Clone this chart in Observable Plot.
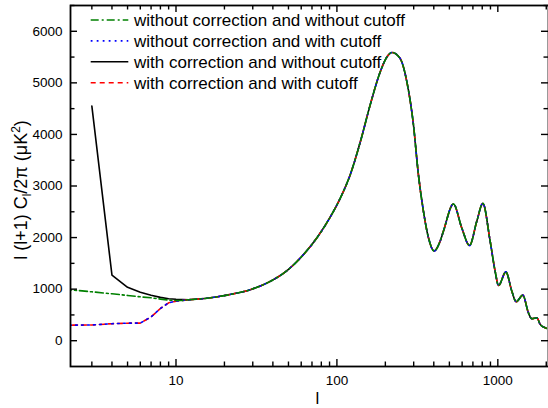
<!DOCTYPE html>
<html>
<head>
<meta charset="utf-8">
<script src="https://cdn.jsdelivr.net/npm/d3@7"></script>
<script src="https://cdn.jsdelivr.net/npm/@observablehq/plot@0.6"></script>
<style>
  html, body { margin: 0; padding: 0; background: #fff; }
  #chart { width: 548px; height: 408px; overflow: hidden; }
</style>
</head>
<body>
<div id="chart"></div>
<script>
// ---------------- data ----------------
const seriesNames = [
  "without correction and without cutoff",
  "without correction and with cutoff",
  "with correction and without cutoff",
  "with correction and with cutoff"
];
const seriesColors = ["#008000", "#0000ff", "#000000", "#ff0000"];

// low multipoles (straight segments between integer l)
const lowL = [2, 3, 4, 5, 6, 7, 8, 9, 10, 11, 12];
const greenLow = [1000, 948, 910, 878, 851, 832, 807, 787, 780, 782, 795];
const cutLow   = [300, 305, 330, 340, 342, 460, 625, 735, 768, 782, 795];
const blackLowL = [3, 4, 5, 6, 7, 8, 9, 10, 11, 12];
const blackLow  = [4550, 1270, 1035, 940, 880, 840, 815, 803, 798, 795];

// common spectrum (all four curves coincide)
const sharedL = [12, 16, 22, 29, 38.5, 49, 62, 75, 91, 105, 121, 140, 161, 186, 205, 220,
  247, 272, 299, 321, 345, 371, 402, 438, 459, 530, 597, 667, 740, 807, 896, 962, 1010,
  1122, 1222, 1300, 1430, 1549, 1625, 1750, 1833, 1967, 2000];
const sharedC = [795, 828, 900, 990, 1150, 1360, 1671, 1992, 2400, 2766, 3219, 3863, 4573, 5217, 5507, 5590,
  5474, 5023, 4186, 3219, 2509, 1992, 1740, 1929, 2122, 2650, 2186, 1845, 2315, 2663, 1929, 1348, 1071,
  1335, 961, 755, 884, 542, 426, 445, 317, 251, 240];

const yMajor = [0, 1000, 2000, 3000, 4000, 5000, 6000];
const yMinor = [500, 1500, 2500, 3500, 4500, 5500, 6500];
const xMajor = [10, 100, 1000];
const xMinor = [3, 4, 5, 6, 7, 8, 9, 20, 30, 40, 50, 60, 70, 80, 90,
  200, 300, 400, 500, 600, 700, 800, 900, 2000];

// ---------------- build tables ----------------
const zip = (ls, cs) => ls.map((l, i) => ({l, c: cs[i]}));
const shared = zip(sharedL, sharedC);
const lows = [zip(lowL, greenLow), zip(lowL, cutLow), zip(blackLowL, blackLow), zip(lowL, cutLow)];
const dashes = ["8,3,2,3", "1.8,4.2", null, "5,4"];
const drawOrder = [2, 3, 1, 0]; // black, red, blue, green

const W = 548, H = 408, mL = 70, mR = 0, mT = 5, mB = 42;
const fw = W - mL - mR, fh = H - mT - mB;
const font = "'Liberation Sans', Arial, sans-serif";

const lineMarks = [];
for (const k of drawOrder) {
  const style = {x: "l", y: "c", stroke: seriesColors[k], strokeWidth: 1.6,
    strokeDasharray: dashes[k], clip: true};
  lineMarks.push(Plot.line(lows[k], {...style, curve: "linear"}));
  lineMarks.push(Plot.line(shared, {...style, curve: "monotone-x"}));
}

const tk = {stroke: "black", strokeWidth: 1.4};
const chart = Plot.plot({
  width: W, height: H,
  marginLeft: mL, marginRight: mR, marginTop: mT, marginBottom: mB,
  style: {fontFamily: font, fontSize: "13px", background: "white", color: "black"},
  x: {type: "log", domain: [2.21, 2065]},
  y: {domain: [-500, 6500]},
  marks: [
    ...lineMarks,
    // inward ticks: left, right, bottom, top
    Plot.tickY(yMajor, {y: d => d, insetRight: fw - 7, ...tk}),
    Plot.tickY(yMinor, {y: d => d, insetRight: fw - 4.5, ...tk}),
    Plot.tickY(yMajor, {y: d => d, insetLeft: fw - 7, ...tk}),
    Plot.tickY(yMinor, {y: d => d, insetLeft: fw - 4.5, ...tk}),
    Plot.tickX(xMajor, {x: d => d, insetTop: fh - 7, ...tk}),
    Plot.tickX(xMinor, {x: d => d, insetTop: fh - 4.5, ...tk}),
    Plot.tickX(xMajor, {x: d => d, insetBottom: fh - 7, ...tk}),
    Plot.tickX(xMinor, {x: d => d, insetBottom: fh - 4.5, ...tk}),
    Plot.axisX(xMajor, {tickSize: 0, tickPadding: 9, tickFormat: d => String(d), label: null, fontSize: 13.5}),
    Plot.axisY(yMajor, {tickSize: 0, tickPadding: 8, tickFormat: d => String(d), label: null, fontSize: 13.5}),
    Plot.frame({stroke: "black", strokeWidth: 1.8})
  ]
});

const svg = d3.select(chart);

// y axis title with subscript / superscript
const yt = svg.append("text")
  .attr("transform", "translate(27,190) rotate(-90)")
  .attr("text-anchor", "middle")
  .attr("font-family", font)
  .attr("font-size", 18)
  .attr("fill", "black");
yt.append("tspan").text("l (l+1) C");
yt.append("tspan").attr("font-size", 12).attr("dy", 4).text("l");
yt.append("tspan").attr("dy", -4).text("/2π (μK");
yt.append("tspan").attr("font-size", 12).attr("dy", -7).text("2");
yt.append("tspan").attr("dy", 7).text(")");

// x axis title
svg.append("text")
  .attr("x", 317.5).attr("y", 404)
  .attr("text-anchor", "middle")
  .attr("font-family", font).attr("font-size", 17)
  .attr("fill", "black")
  .text("l");

// legend (inside the frame, top-left)
const leg = svg.append("g")
  .attr("font-family", font).attr("font-size", 17)
  .attr("text-anchor", "start");
seriesNames.forEach((name, i) => {
  const y = 20 + i * 20.9;
  leg.append("line")
    .attr("x1", 90.7).attr("x2", 128.3).attr("y1", y).attr("y2", y)
    .attr("stroke", seriesColors[i]).attr("stroke-width", 1.6)
    .attr("stroke-dasharray", dashes[i]);
  leg.append("text").attr("x", 134).attr("y", y + 6)
    .attr("text-anchor", "start").attr("fill", "black").text(name);
});

document.getElementById("chart").appendChild(chart);
</script>
</body>
</html>
